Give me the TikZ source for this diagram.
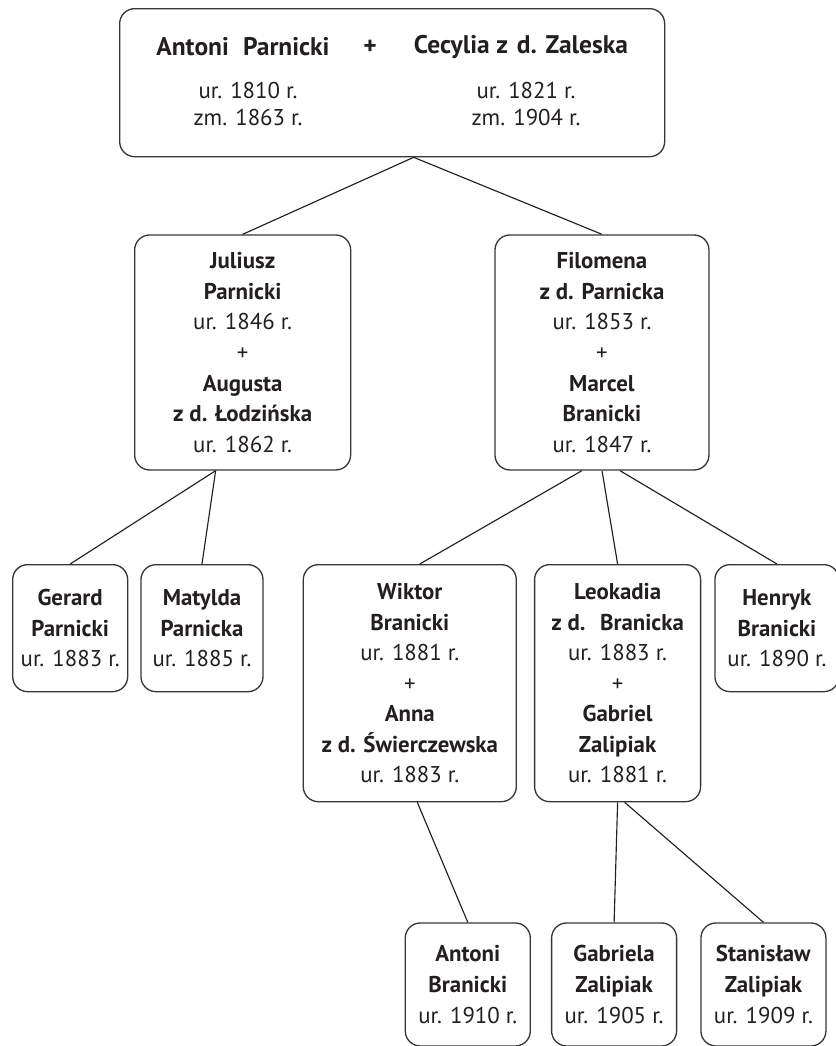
\documentclass[tikz,border=0pt]{standalone}
\usepackage{fontspec}
\setmainfont{PT Sans}
\usetikzlibrary{positioning}
\definecolor{ink}{HTML}{231F20}

\begin{document}
\begin{tikzpicture}[
        font=\fontsize{13}{17.4}\selectfont,
        text=ink,
        box/.style={draw=ink!90, line width=0.75pt, rounded corners=0.3cm, align=center, inner sep=0pt},
        couplebox/.style={box, minimum height=4.7cm},
        singlebox/.style={box, minimum height=2.54cm},
        header/.style={font=\fontsize{14.5}{17.4}\selectfont\bfseries},
        dates/.style={align=center, font=\fontsize{13}{15.9}\selectfont},
        link/.style={draw=ink, line width=0.65pt},
    ]
    \useasboundingbox (0,0) rectangle (16.7,-20.92);

    % Antoni + Cecylia
    \node[box, minimum width=10.9cm, minimum height=2.96cm, anchor=north west] (top) at (2.38,-0.16) {};
    \node[header] (antoni) at (4.86,-0.94) {Antoni\hspace{0.3em} Parnicki};
    \node[header] (plus) at (7.40,-0.94) {+};
    \node[header] (cecylia) at (10.42,-0.94) {Cecylia z\hspace{0.1em} d. Zaleska};
    \node[dates] (antonidates) at (4.96,-2.08) {ur. 1810 r.\\zm. 1863 r.};
    \node[dates] (cecyliadates) at (10.52,-2.08) {ur. 1821 r.\\zm. 1904 r.};

    % Children
    \node[couplebox, minimum width=4.32cm, below right=1.54cm and 0.3cm of top.south west] (juliusz)
        {\textbf{Juliusz}\\\textbf{Parnicki}\\ur. 1846 r.\\+\\\textbf{Augusta}\\\textbf{z d. Łodzińska}\\ur. 1862 r.};
    \node[couplebox, minimum width=4.28cm, right=2.86cm of juliusz.north east, anchor=north west] (filomena)
        {\textbf{Filomena}\\\textbf{z d. Parnicka}\\ur. 1853 r.\\+\\\textbf{Marcel}\\\textbf{Branicki}\\ur. 1847 r.};

    % Grandchildren
    \node[singlebox, minimum width=2.3cm, anchor=north west] (gerard) at (0.24,-11.28)
        {\textbf{Gerard}\\\textbf{Parnicki}\\ur. 1883 r.};
    \node[singlebox, minimum width=2.44cm, right=0.24cm of gerard.north east, anchor=north west] (matylda)
        {\textbf{Matylda}\\\textbf{Parnicka}\\ur. 1885 r.};
    \node[couplebox, minimum width=4.26cm, minimum height=4.74cm, right=0.78cm of matylda.north east, anchor=north west] (wiktor)
        {\textbf{Wiktor}\\\textbf{Branicki}\\ur. 1881 r.\\+\\\textbf{Anna}\\\textbf{z d. Świerczewska}\\ur. 1883 r.};
    \node[couplebox, minimum width=3.32cm, minimum height=4.74cm, right=0.34cm of wiktor.north east, anchor=north west] (leokadia)
        {\textbf{Leokadia}\\\textbf{z d.\hspace{0.3em} Branicka}\\ur. 1883 r.\\+\\\textbf{Gabriel}\\\textbf{Zalipiak}\\ur. 1881 r.};
    \node[singlebox, minimum width=2.48cm, right=0.26cm of leokadia.north east, anchor=north west] (henryk)
        {\textbf{Henryk}\\\textbf{Branicki}\\ur. 1890 r.};

    % Great-grandchildren
    \node[singlebox, minimum width=2.5cm, minimum height=2.46cm, below right=2.4cm and 2.04cm of wiktor.south west] (antonib)
        {\textbf{Antoni}\\\textbf{Branicki}\\ur. 1910 r.};
    \node[singlebox, minimum width=2.5cm, minimum height=2.46cm, right=0.4cm of antonib.north east, anchor=north west] (gabriela)
        {\textbf{Gabriela}\\\textbf{Zalipiak}\\ur. 1905 r.};
    \node[singlebox, minimum width=2.5cm, minimum height=2.46cm, right=0.46cm of gabriela.north east, anchor=north west] (stanislaw)
        {\textbf{Stanisław}\\\textbf{Zalipiak}\\ur. 1909 r.};

    % Lines
    \draw[link] ([xshift=0.43cm]top.south) -- (juliusz.north);
    \draw[link] ([xshift=0.43cm]top.south) -- (filomena.north);
    \draw[link] ([xshift=-0.54cm]juliusz.south) -- (gerard.north);
    \draw[link] ([xshift=-0.54cm]juliusz.south) -- (matylda.north);
    \draw[link] ([xshift=-0.4cm]filomena.south) -- ([xshift=0.2cm]wiktor.north);
    \draw[link] (filomena.south) -- (leokadia.north);
    \draw[link] ([xshift=0.36cm]filomena.south) -- (henryk.north);
    \draw[link] ([xshift=0.15cm]wiktor.south) -- (antonib.north);
    \draw[link] (leokadia.south) -- (gabriela.north);
    \draw[link] ([xshift=0.14cm]leokadia.south) -- (stanislaw.north);

\end{tikzpicture}
\end{document}
